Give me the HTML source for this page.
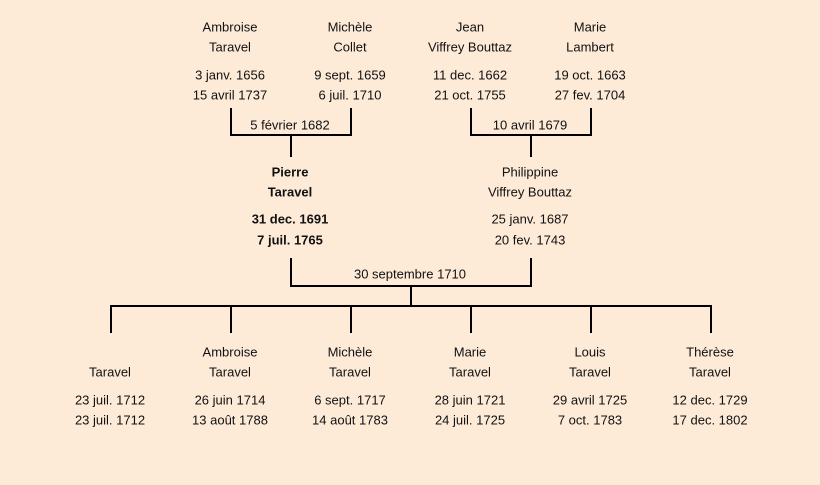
<!DOCTYPE html>
<html><head><meta charset="utf-8"><style>
html,body{margin:0;padding:0;background:#fdebd8;}
svg{display:block}
text{font-family:"Liberation Sans",sans-serif;font-size:13px;fill:#111;text-anchor:middle;dominant-baseline:middle}
.b{font-weight:bold}
</style></head><body>
<svg width="820" height="485" viewBox="0 0 820 485">
<rect width="820" height="485" fill="#fdebd8"/>
<g stroke="#000" stroke-width="2" fill="none">
<path d="M231 108V135H351V108M291 135V157"/>
<path d="M471 108V135H591V108M531 135V157"/>
<path d="M291 258V286H531V258M411 286V306"/>
<path d="M111 333V306H711V333M231 306V333M351 306V333M471 306V333M591 306V333"/>
</g>
<g transform="translate(0,1)">
<text x="230" y="27">Ambroise</text><text x="230" y="47">Taravel</text>
<text x="230" y="75">3 janv. 1656</text><text x="230" y="95">15 avril 1737</text>
<text x="350" y="27">Michèle</text><text x="350" y="47">Collet</text>
<text x="350" y="75">9 sept. 1659</text><text x="350" y="95">6 juil. 1710</text>
<text x="470" y="27">Jean</text><text x="470" y="47">Viffrey Bouttaz</text>
<text x="470" y="75">11 dec. 1662</text><text x="470" y="95">21 oct. 1755</text>
<text x="590" y="27">Marie</text><text x="590" y="47">Lambert</text>
<text x="590" y="75">19 oct. 1663</text><text x="590" y="95">27 fev. 1704</text>
<text x="290" y="125">5 février 1682</text>
<text x="530" y="125">10 avril 1679</text>
<text class="b" x="290" y="172">Pierre</text><text class="b" x="290" y="192">Taravel</text>
<text class="b" x="290" y="219">31 dec. 1691</text><text class="b" x="290" y="240">7 juil. 1765</text>
<text x="530" y="172">Philippine</text><text x="530" y="192">Viffrey Bouttaz</text>
<text x="530" y="219">25 janv. 1687</text><text x="530" y="240">20 fev. 1743</text>
<text x="410" y="274">30 septembre 1710</text>
<text x="110" y="372">Taravel</text>
<text x="110" y="400">23 juil. 1712</text><text x="110" y="420">23 juil. 1712</text>
<text x="230" y="352">Ambroise</text><text x="230" y="372">Taravel</text>
<text x="230" y="400">26 juin 1714</text><text x="230" y="420">13 août 1788</text>
<text x="350" y="352">Michèle</text><text x="350" y="372">Taravel</text>
<text x="350" y="400">6 sept. 1717</text><text x="350" y="420">14 août 1783</text>
<text x="470" y="352">Marie</text><text x="470" y="372">Taravel</text>
<text x="470" y="400">28 juin 1721</text><text x="470" y="420">24 juil. 1725</text>
<text x="590" y="352">Louis</text><text x="590" y="372">Taravel</text>
<text x="590" y="400">29 avril 1725</text><text x="590" y="420">7 oct. 1783</text>
<text x="710" y="352">Thérèse</text><text x="710" y="372">Taravel</text>
<text x="710" y="400">12 dec. 1729</text><text x="710" y="420">17 dec. 1802</text>
</g>
</svg>
</body></html>
